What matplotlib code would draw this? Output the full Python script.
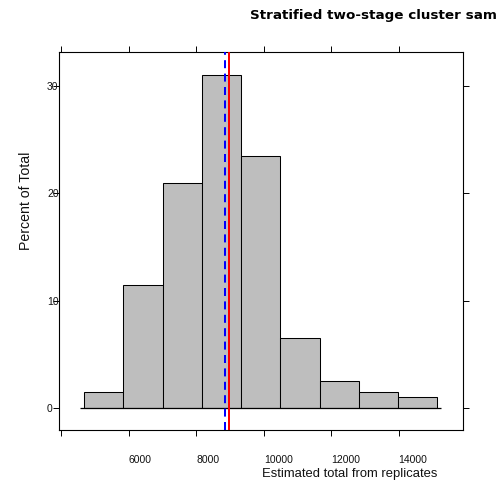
import matplotlib
matplotlib.use("Agg")
import matplotlib.pyplot as plt
import numpy as np

# ---- data ----
bin_edges = [4680, 5843, 7005, 8168, 9330, 10493, 11655, 12818, 13980, 15143]
percent_of_total = [1.5, 11.5, 21.0, 31.0, 23.5, 6.5, 2.5, 1.5, 1.0]
mean_replicates = 8843      # blue dashed line
full_sample_estimate = 8961  # red solid line
x_ticks = [4000, 6000, 8000, 10000, 12000, 14000]
x_tick_labels = ["", "6000", "8000", "10000", "12000", "14000"]
y_ticks = [0, 10, 20, 30]
y_tick_labels = ["0", "10", "20", "30"]
title = "Stratified two-stage cluster sam"   # as visible in the reference
x_label = "Estimated total from replicates"
y_label = "Percent of Total"

plt.rcParams['font.family'] = ['Liberation Sans', 'DejaVu Sans']

W, H = 499, 488
fig = plt.figure(figsize=(W / 100, H / 100), dpi=100)
ax = fig.add_axes([59.3 / W, 1 - 430 / H, (462.7 - 59.3) / W, (430 - 51.7) / H])

edges = np.array(bin_edges, dtype=float)
ax.bar(edges[:-1], percent_of_total, width=np.diff(edges), align='edge',
       color='#BEBEBE', edgecolor='black', linewidth=0.75, zorder=2)
pad_x = 0.0115 * (edges[-1] - edges[0])
ax.hlines(0, edges[0] - pad_x, edges[-1] + pad_x, color='black', linewidth=0.9, zorder=3)

ax.axvline(mean_replicates, color='#0000FF', linewidth=1.44, dashes=(4, 2.7), zorder=4)
ax.axvline(full_sample_estimate, color='#FF0000', linewidth=1.44, zorder=5)

ax.set_xlim(3941, 15897)
ax.set_ylim(-2.05, 33.2)

ax.set_xticks(x_ticks)
ax.set_xticklabels(x_tick_labels)
ax.set_yticks(y_ticks)
ax.set_yticklabels(y_tick_labels)
ax.tick_params(axis='both', direction='out', length=4.3, width=0.7, color='black',
               labelsize=7.5, labelcolor='#111111', top=True, right=True,
               labeltop=False, labelright=False)
ax.tick_params(axis='x', pad=13.5)
ax.tick_params(axis='y', pad=4.5)
for lab in ax.get_xticklabels():
    lab.set_horizontalalignment('left')
for lab in ax.get_yticklabels():
    lab.set_horizontalalignment('left')

for s in ax.spines.values():
    s.set_linewidth(0.8)
    s.set_color('black')

fig.text(250 / W, 1 - 18.5 / H, title, ha='left', va='baseline',
         fontsize=9.7, fontweight='bold', color='black',
         family=['DejaVu Sans'])
fig.text(262 / W, 1 - 476.5 / H, x_label, ha='left', va='baseline',
         fontsize=9.4, color='#111111')
fig.text(30 / W, 1 - 250 / H, y_label, ha='left', va='baseline', rotation=90,
         rotation_mode='anchor', fontsize=10.2, color='#111111')

fig.savefig("out.png", dpi=100)
